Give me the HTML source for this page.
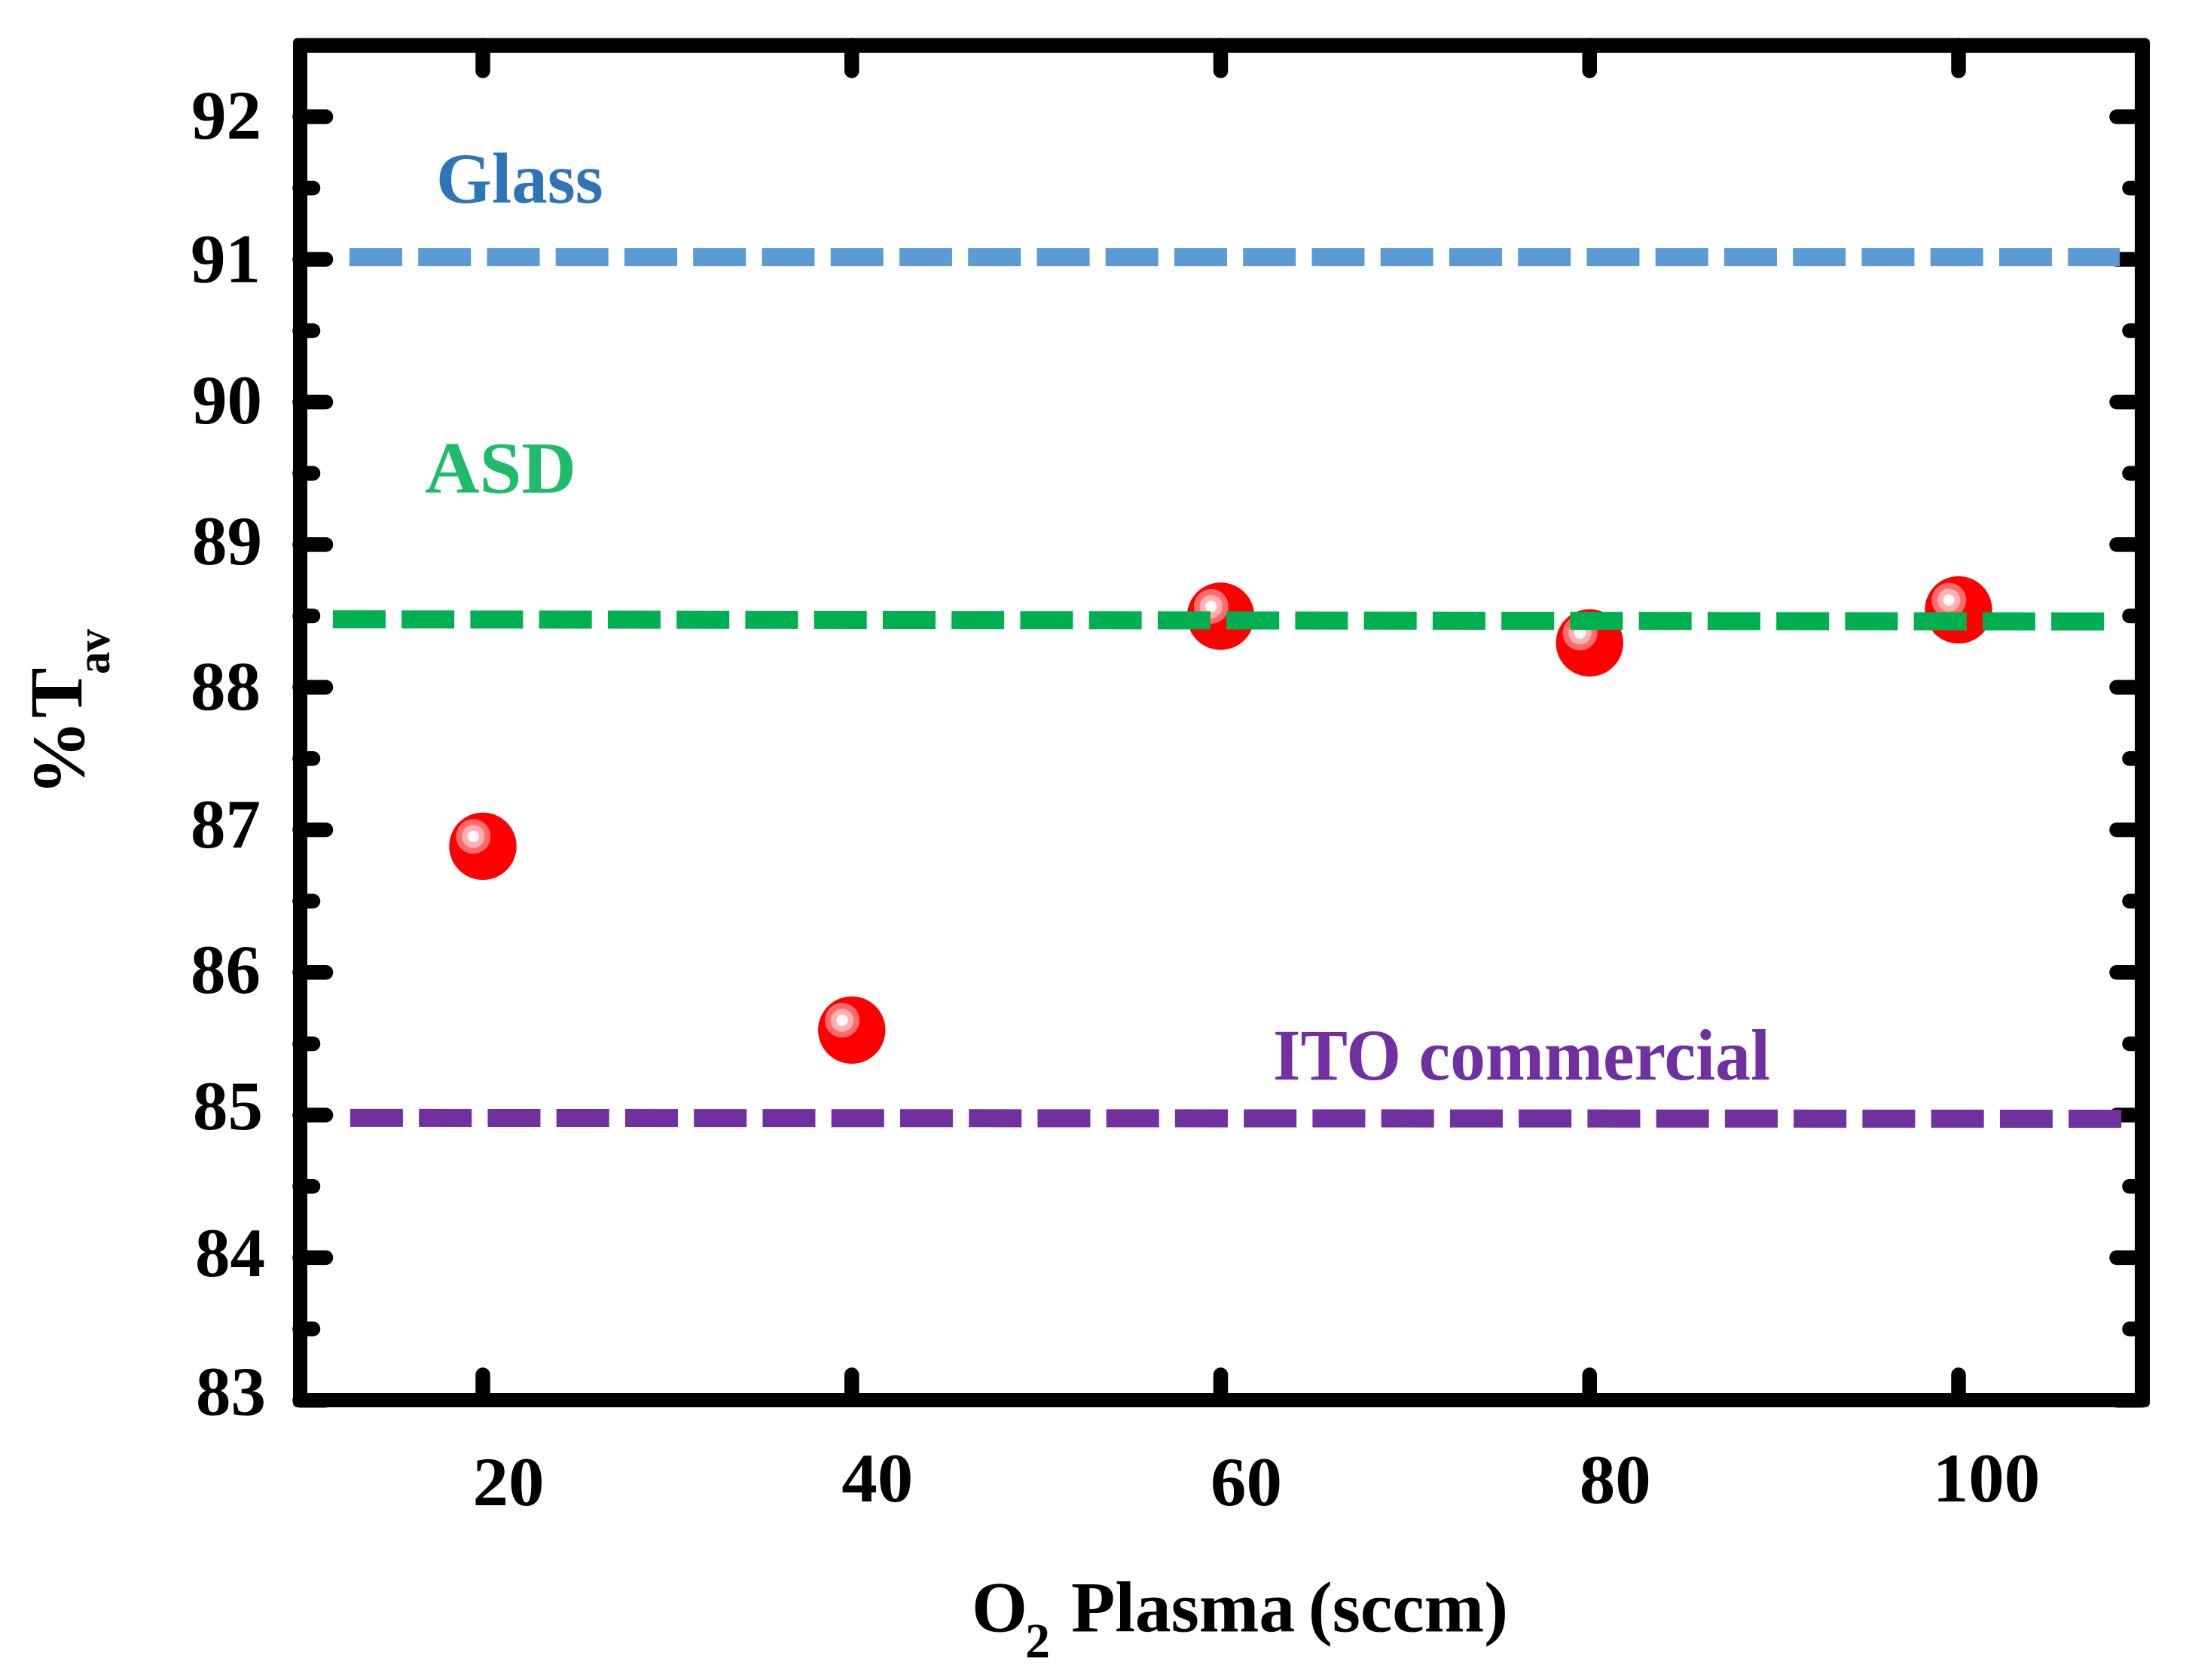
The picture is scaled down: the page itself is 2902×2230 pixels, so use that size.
<!DOCTYPE html>
<html lang="en">
<head>
<meta charset="utf-8">
<title>Average transmittance vs O2 plasma</title>
<style>
  html, body { margin: 0; padding: 0; background: #fff; }
  svg { display: block; }
  text { font-family: "Liberation Serif", serif; font-weight: bold; }
</style>
</head>
<body>
<svg id="chart" xmlns="http://www.w3.org/2000/svg" width="2902" height="2230" viewBox="0 0 2902 2230">
  <rect x="0" y="0" width="2902" height="2230" fill="#ffffff"/>
  <rect x="389" y="50.5" width="2465" height="1817.5" rx="6" fill="#000000"/>
  <rect x="408" y="70" width="2426" height="1779" fill="#ffffff"/>
  <g id="ticks"></g>
  <g id="tick-labels"></g>
  <g id="points"></g>
  <g id="lines"></g>

  <text x="579" y="269" font-size="95" fill="#2e75b6">Glass</text>
  <text x="564" y="654" font-size="97" fill="#1ebc68" textLength="201" lengthAdjust="spacingAndGlyphs">ASD</text>
  <text x="1690" y="1433" font-size="96" fill="#7030a0" textLength="660" lengthAdjust="spacingAndGlyphs">ITO commercial</text>

  <g>
    <text x="1290" y="2165.5" font-size="95" fill="#000000">O</text>
    <text x="1361" y="2200" font-size="66" fill="#000000">2</text>
    <text x="1422" y="2165.5" font-size="95" fill="#000000" word-spacing="-6" textLength="580" lengthAdjust="spacingAndGlyphs">Plasma (sccm)</text>
  </g>
  <g>
    <text transform="translate(111 1056) rotate(-90)" font-size="100" fill="#000000" textLength="100" lengthAdjust="spacingAndGlyphs">%</text>
    <text transform="translate(108 953) rotate(-90)" font-size="100" fill="#000000">T</text>
    <text transform="translate(145 895) rotate(-90)" font-size="62" fill="#000000" textLength="60" lengthAdjust="spacingAndGlyphs">av</text>
  </g>
</svg>
<script>
const oxygenFlow = [20, 40, 60, 80, 100];
const transmittance = [86.885, 85.596, 88.498, 88.311, 88.542];

const glassLineX = [12.77, 108.74];
const glassLineY = [91.017, 91.017];
const asdLineX = [11.87, 107.92];
const asdLineY = [88.476, 88.461];
const itoLineX = [12.81, 108.84];
const itoLineY = [84.98, 84.974];

const xTickValues = [20, 40, 60, 80, 100];
const xTickLabels = ['20', '40', '60', '80', '100'];
const yMajorTickValues = [92, 91, 90, 89, 88, 87, 86, 85, 84, 83];
const yTickLabels = ['92', '91', '90', '89', '88', '87', '86', '85', '84', '83'];
const yMinorTickValues = [91.5, 90.5, 89.5, 88.5, 87.5, 86.5, 85.5, 84.5, 83.5];

function xPos(v) { return 641 + (v - 20) * 24.4875; }
function yPos(v) { return 155 + (92 - v) * 189.3; }

const SVG_NS = 'http://www.w3.org/2000/svg';
function make(tag, parent, attrs) {
  const el = document.createElementNS(SVG_NS, tag);
  Object.keys(attrs).forEach(function (k) { el.setAttribute(k, attrs[k]); });
  parent.appendChild(el);
  return el;
}

// Hand-placed label offsets seen in the source figure (layout only).
function yLabelDx(label) {
  return ({ '92': 0, '91': -1, '90': 1, '89': 1, '88': -1, '87': -1, '86': -1, '85': 2, '84': 5, '83': 6 })[label];
}
function yLabelDy(label) {
  return ({ '92': 29, '91': 30, '90': 28.5, '89': 26, '88': 30, '87': 23.5, '86': 27, '85': 19, '84': 24.6, '83': 19.5 })[label];
}
function xLabelDx(label) {
  return label === '100' ? 37 : 34;
}
function xLabelBaseline(label) {
  return ({ '20': 1998, '40': 1993, '60': 1998, '80': 1995, '100': 1993 })[label];
}
function labelLength(label) {
  return label.length * 47.5;
}

const ticksGroup = document.getElementById('ticks');
const labelsGroup = document.getElementById('tick-labels');
const pointsGroup = document.getElementById('points');
const linesGroup = document.getElementById('lines');

const tickStroke = { stroke: '#000000', 'stroke-width': 19.5, 'stroke-linecap': 'round' };

yMajorTickValues.forEach(function (v) {
  const left = make('line', ticksGroup, Object.assign({ x1: 398, x2: 432.5, y1: yPos(v), y2: yPos(v) }, tickStroke));
  
  
  const right = make('line', ticksGroup, Object.assign({ x1: 2844, x2: 2810, y1: yPos(v), y2: yPos(v) }, tickStroke));
  
  
});

yMinorTickValues.forEach(function (v) {
  const left = make('line', ticksGroup, Object.assign({ x1: 398, x2: 415.5, y1: yPos(v), y2: yPos(v) }, tickStroke));
  
  
  const right = make('line', ticksGroup, Object.assign({ x1: 2844, x2: 2827, y1: yPos(v), y2: yPos(v) }, tickStroke));
  
  
});

xTickValues.forEach(function (v) {
  const bottom = make('line', ticksGroup, Object.assign({ x1: xPos(v), x2: xPos(v), y1: 1858, y2: 1825 }, tickStroke));
  
  
  const top = make('line', ticksGroup, Object.assign({ x1: xPos(v), x2: xPos(v), y1: 60, y2: 94 }, tickStroke));
  
  
});

yMajorTickValues.forEach(function (v, i) {
  const label = yTickLabels[i];
  const t = make('text', labelsGroup, {
    x: 347 + yLabelDx(label),
    y: yPos(v) + yLabelDy(label),
    'text-anchor': 'end',
    'font-size': 92,
    textLength: 93,
    lengthAdjust: 'spacingAndGlyphs',
    fill: '#000000'
  });
  t.textContent = label;
  
  
});

xTickValues.forEach(function (v, i) {
  const label = xTickLabels[i];
  const t = make('text', labelsGroup, {
    x: xPos(v) + xLabelDx(label),
    y: xLabelBaseline(label),
    'text-anchor': 'middle',
    'font-size': 92,
    textLength: labelLength(label),
    lengthAdjust: 'spacingAndGlyphs',
    fill: '#000000'
  });
  t.textContent = label;
  
  
});

oxygenFlow.forEach(function (v, i) {
  const cx = xPos(v);
  const cy = yPos(transmittance[i]);
  const ball = make('circle', pointsGroup, { cx: cx, cy: cy, r: 44.7, fill: '#ff0000' });
  
  
  const ring1 = make('circle', pointsGroup, { cx: cx - 12.7, cy: cy - 13, r: 23, fill: '#ff6b6b' });
  
  
  const ring2 = make('circle', pointsGroup, { cx: cx - 12.7, cy: cy - 13, r: 15.3, fill: '#ffb0b0' });
  
  
  const ring3 = make('circle', pointsGroup, { cx: cx - 12.7, cy: cy - 13, r: 7.7, fill: '#fff8f8' });
  
  
});

function dashedAttrs(xs, ys, color) {
  return {
    x1: xPos(xs[0]), y1: yPos(ys[0]),
    x2: xPos(xs[1]), y2: yPos(ys[1]),
    stroke: color,
    'stroke-width': 24,
    'stroke-dasharray': '70 21.25',
    'stroke-linecap': 'butt'
  };
}

const glassLine = make('line', linesGroup, dashedAttrs(glassLineX, glassLineY, '#5b9bd5'));



const asdLine = make('line', linesGroup, dashedAttrs(asdLineX, asdLineY, '#00b050'));



const itoLine = make('line', linesGroup, dashedAttrs(itoLineX, itoLineY, '#7030a0'));


</script>
</body>
</html>
